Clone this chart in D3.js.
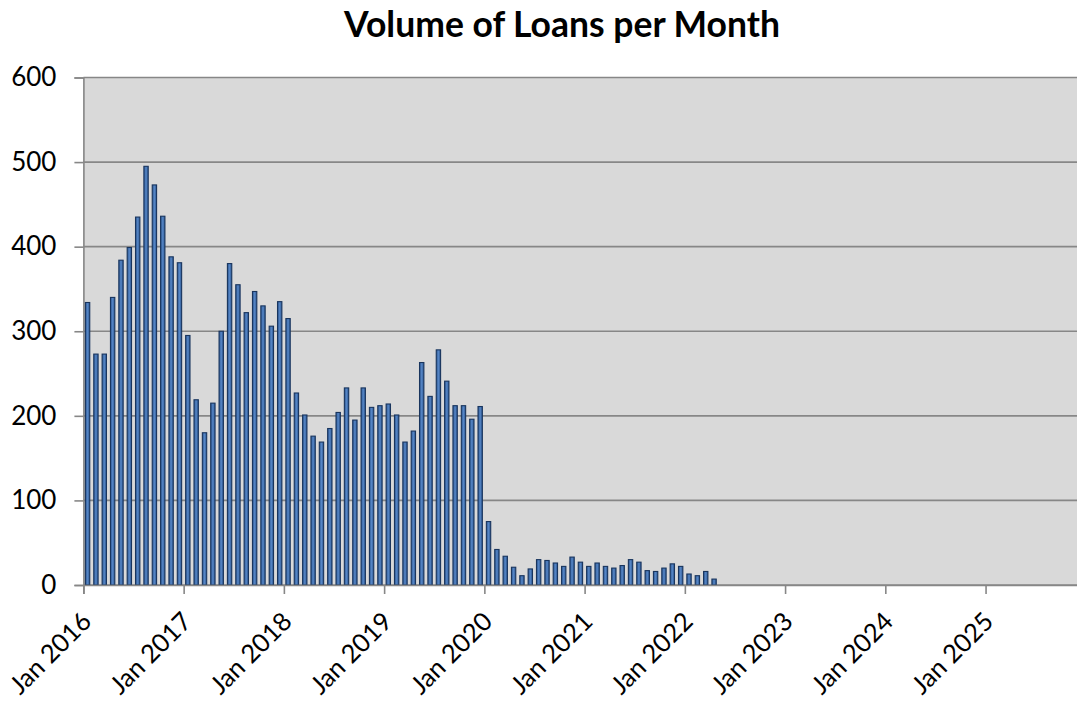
<!DOCTYPE html>
<html>
<head>
<meta charset="utf-8">
<script src="https://cdn.jsdelivr.net/npm/d3@7"></script>
<style>
  html, body { margin: 0; padding: 0; background: #ffffff; }
  svg { display: block; }
  text { font-family: Lato, "Open Sans", sans-serif; fill: #000; }
</style>
</head>
<body>
<svg id="chart" width="1077" height="702"></svg>
<script>
// ---- Data ----
const title = "Volume of Loans per Month";
const firstMonth = "2016-01";
const lastAxisMonth = "2025-12";
const loans2016 = [334, 273, 273, 340, 384, 399, 435, 495, 473, 436, 388, 381];
const loans2017 = [295, 219, 180, 215, 300, 380, 355, 322, 347, 330, 306, 335];
const loans2018 = [315, 227, 201, 176, 169, 185, 204, 233, 195, 233, 210, 212];
const loans2019 = [214, 201, 169, 182, 263, 223, 278, 241, 212, 212, 196, 211];
const loans2020 = [75, 42, 34, 21, 11, 19, 30, 29, 26, 22, 33, 27];
const loans2021 = [22, 26, 22, 20, 23, 30, 27, 17, 16, 20, 25, 22];
const loans2022 = [13, 11, 16, 7];
const xTickLabels = ["Jan 2016", "Jan 2017", "Jan 2018", "Jan 2019", "Jan 2020",
                     "Jan 2021", "Jan 2022", "Jan 2023", "Jan 2024", "Jan 2025"];
const yTicks = [0, 100, 200, 300, 400, 500, 600];

const values = [].concat(loans2016, loans2017, loans2018, loans2019, loans2020, loans2021, loans2022);
const parse = d3.timeParse("%Y-%m");
const axisMonths = d3.timeMonth.range(parse(firstMonth), d3.timeMonth.offset(parse(lastAxisMonth), 1))
  .map(d3.timeFormat("%Y-%m"));
const data = values.map((v, i) => ({ month: axisMonths[i], value: v }));

// ---- Layout ----
const svg = d3.select("#chart");
const plotLeft = 83.4, plotRight = 1085.8, plotTop = 77.5, plotBottom = 585;

const x = d3.scaleBand().domain(axisMonths).range([plotLeft, plotRight]).paddingInner(0.48).paddingOuter(0.24);
const xAxisScale = d3.scaleLinear().domain([0, axisMonths.length]).range([plotLeft, plotRight]);
const y = d3.scaleLinear().domain([0, 600]).range([plotBottom, plotTop]);

// gradient
const defs = svg.append("defs");
const grad = defs.append("linearGradient").attr("id", "barGrad").attr("x1", "0%").attr("x2", "100%").attr("y1", "0%").attr("y2", "0%");
grad.append("stop").attr("offset", "0%").attr("stop-color", "#2b5690");
grad.append("stop").attr("offset", "50%").attr("stop-color", "#5686c6");
grad.append("stop").attr("offset", "100%").attr("stop-color", "#2b5690");

// plot background
svg.append("rect").attr("x", plotLeft).attr("y", plotTop).attr("width", plotRight - plotLeft).attr("height", plotBottom - plotTop).attr("fill", "#d9d9d9");

// y axis with gridlines
const yAxis = d3.axisLeft(y).tickValues(yTicks).tickSize(9).tickPadding(18).tickFormat(d3.format("d"));
const yg = svg.append("g").attr("transform", `translate(${plotLeft},0)`).call(yAxis);
yg.select(".domain").attr("stroke", "#878787").attr("stroke-width", 1.6);
yg.selectAll(".tick line").attr("stroke", "#878787").attr("stroke-width", 1.6);
yg.selectAll(".tick text").attr("font-size", 26).attr("font-family", "Lato").attr("fill", "#000");
svg.append("g").selectAll("line").data(yTicks).join("line")
  .attr("x1", plotLeft).attr("x2", plotRight)
  .attr("y1", d => y(d)).attr("y2", d => y(d))
  .attr("stroke", "#878787").attr("stroke-width", 1.6);

// bars
svg.append("g").selectAll("rect").data(data).join("rect")
  .attr("x", d => x(d.month))
  .attr("width", x.bandwidth())
  .attr("y", d => y(d.value))
  .attr("height", d => y(0) - y(d.value))
  .attr("fill", "url(#barGrad)")
  .attr("stroke", "#19355e")
  .attr("stroke-width", 1.1);

// x axis
const xTickVals = xTickLabels.map((_, i) => i * 12);
const xAxis = d3.axisBottom(xAxisScale).tickValues(xTickVals).tickSize(9).tickFormat((d, i) => xTickLabels[i]);
const xg = svg.append("g").attr("transform", `translate(0,${plotBottom})`).call(xAxis);
xg.select(".domain").attr("stroke", "#878787").attr("stroke-width", 1.6);
xg.selectAll(".tick line").attr("stroke", "#878787").attr("stroke-width", 1.6);
xg.selectAll(".tick text")
  .attr("font-size", 25.5).attr("font-family", "Lato").attr("fill", "#000")
  .attr("text-anchor", "end")
  .attr("y", 0).attr("dy", 0)
  .attr("transform", "translate(9,38) rotate(-45)");

// title
svg.append("text").attr("x", 562).attr("y", 37).attr("text-anchor", "middle")
  .attr("font-size", 35.5).attr("font-weight", "bold").text(title);
</script>
</body>
</html>
